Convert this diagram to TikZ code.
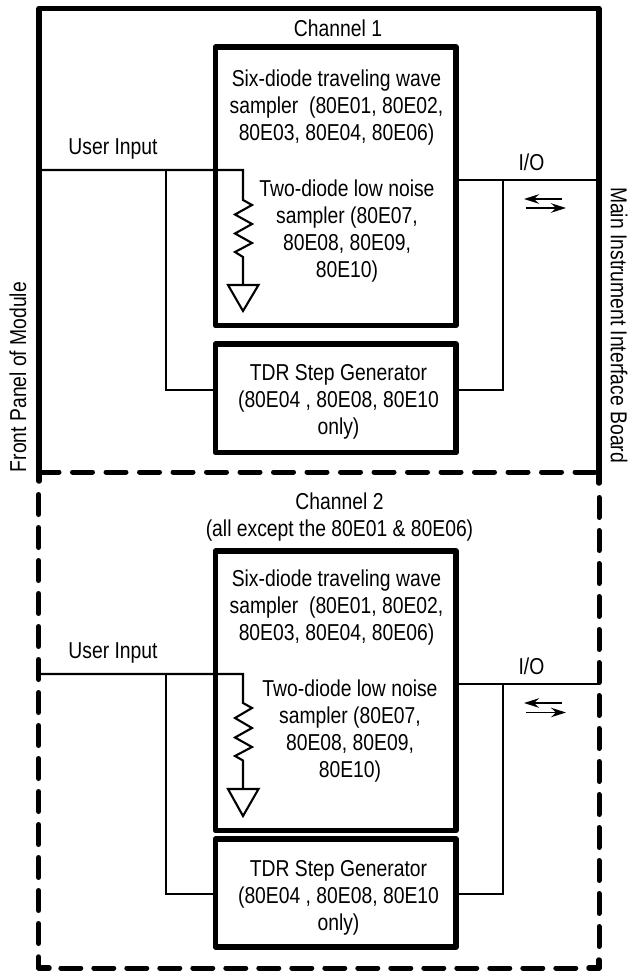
\documentclass[tikz,border=0pt]{standalone}
\usepackage{fontspec}
\setmainfont[FakeStretch=0.84]{Liberation Sans}
\usetikzlibrary{arrows.meta}
\tikzset{
  heavy/.style={draw=black,line width=5.5pt,line join=round,line cap=round},
  wire/.style={draw=black,line width=2.1pt,line join=miter},
  blockbox/.style={draw=black,line width=5.5pt,line join=round,fill=white,rectangle,inner sep=0pt,outer sep=0pt,minimum width=240.5pt,anchor=north west},
  lbl/.style={font=\fontsize{23}{27}\selectfont,align=center,inner sep=0pt,text=black},
  dashline/.style={draw=black,line width=5pt,line cap=round,dash pattern=on 20pt off 13.5pt},
  dashv/.style={draw=black,line width=5pt,line cap=round,dash pattern=on 20pt off 13pt},
  io arrow/.style={draw=black,line width=1.2pt,-{Stealth[length=15pt,width=9.5pt]}},
}
\begin{document}
\begin{tikzpicture}[x=1pt,y=-1pt]
\useasboundingbox (0,0) rectangle (629,971);
% outer frame
\coordinate (tl) at (39,8.5); \coordinate (tr) at (599,8.5);
\coordinate (ml) at (39,472); \coordinate (mr) at (599,472);
\coordinate (ls) at (39,481); \coordinate (rs) at (599,483);
\draw[heavy] (ls) -- (tl) -- (tr) -- (rs);
\draw[dashline] (ml) -- (mr);
\draw[dashv] (38.5,494.5) -- (38.5,950);
\draw[dashv] (599,497.5) -- (599,950);
\draw[dashv] (60.8,968) -- (580,968);
\draw[heavy] (38.5,957) -- (38.5,968) -- (49,968);
\draw[heavy] (589,968) -- (599,968) -- (599,960);
% channel 1
\coordinate (in1) at (39,170); \coordinate (j1) at (166,170); \coordinate (c1) at (243,170);
\coordinate (o1) at (599,180); \coordinate (k1) at (503,180);
\coordinate (b1l) at (166,390); \coordinate (b1r) at (503,390);
\node[blockbox,minimum height=278.5pt] (s1) at (215.5,47) {};
\node[blockbox,minimum height=108.7pt] (t1) at (215.5,344) {};
\draw[wire] (in1) -- (c1) -- (243,200) -- (252,205) -- (235,214.5) -- (252,224) -- (235,233.5) -- (252,243) -- (235,252) -- (243,257) -- (243,285);
\draw[wire,line join=miter] (228,285) -- (258.5,285) -- (243,311) -- cycle;
\draw[wire] (j1) -- (b1l) -- (t1.west |- b1l);
\draw[wire] (s1.east |- o1) -- (o1);
\draw[wire] (k1) -- (b1r) -- (t1.east |- b1r);
\node[lbl] (ch1) at (338,28) {Channel 1};
\node[lbl] (six1) at (336.5,108) {Six-diode traveling wave\\sampler\ \ (80E01, 80E02,\\80E03, 80E04, 80E06)};
\node[lbl] (two1) at (347,231.5) {Two-diode low noise\\sampler (80E07,\\80E08, 80E09,\\80E10)};
\node[lbl] (tdr1) at (338.5,402) {TDR Step Generator\\(80E04 , 80E08, 80E10\\only)};
\node[lbl] (ui1) at (113,149) {User Input};
\node[lbl] (io1) at (531.5,162) {I/O};
\coordinate (a1) at (562,199); \coordinate (a2) at (524,199);
\coordinate (a3) at (526,208); \coordinate (a4) at (566,208);
\draw[io arrow] (a1) -- (a2);
\draw[io arrow] (a3) -- (a4);
% channel 2
\coordinate (in2) at (38.5,674); \coordinate (j2) at (166,674); \coordinate (c2) at (243,674);
\coordinate (o2) at (599,684); \coordinate (k2) at (503,684);
\coordinate (b2l) at (166,894); \coordinate (b2r) at (503,894);
\node[blockbox,minimum height=279.5pt] (s2) at (215.5,551) {};
\node[blockbox,minimum height=108pt] (t2) at (215.5,839) {};
\draw[wire] (in2) -- (c2) -- (243,703) -- (252,708) -- (235,718) -- (252,728) -- (235,737.5) -- (252,747) -- (235,756) -- (243,760.5) -- (243,789);
\draw[wire,line join=miter] (228,789) -- (258.5,789) -- (243,816) -- cycle;
\draw[wire] (j2) -- (b2l) -- (t2.west |- b2l);
\draw[wire] (s2.east |- o2) -- (o2);
\draw[wire] (k2) -- (b2r) -- (t2.east |- b2r);
\node[lbl] (ch2) at (339.5,517) {Channel 2\\(all except the 80E01 \& 80E06)};
\node[lbl] (six2) at (336.5,608) {Six-diode traveling wave\\sampler\ \ (80E01, 80E02,\\80E03, 80E04, 80E06)};
\node[lbl] (two2) at (350,731.5) {Two-diode low noise\\sampler (80E07,\\80E08, 80E09,\\80E10)};
\node[lbl] (tdr2) at (338.5,898) {TDR Step Generator\\(80E04 , 80E08, 80E10\\only)};
\node[lbl] (ui2) at (113,653) {User Input};
\node[lbl] (io2) at (531.5,666) {I/O};
\coordinate (a5) at (562,703); \coordinate (a6) at (524,703);
\coordinate (a7) at (526,712.5); \coordinate (a8) at (566,712.5);
\draw[io arrow] (a5) -- (a6);
\draw[io arrow] (a7) -- (a8);
% side labels
\node[lbl,rotate=90] (fp) at (18,377) {Front Panel of Module};
\node[lbl,rotate=-90] (mi) at (619,325) {Main Instrument Interface Board};
\end{tikzpicture}
\end{document}
